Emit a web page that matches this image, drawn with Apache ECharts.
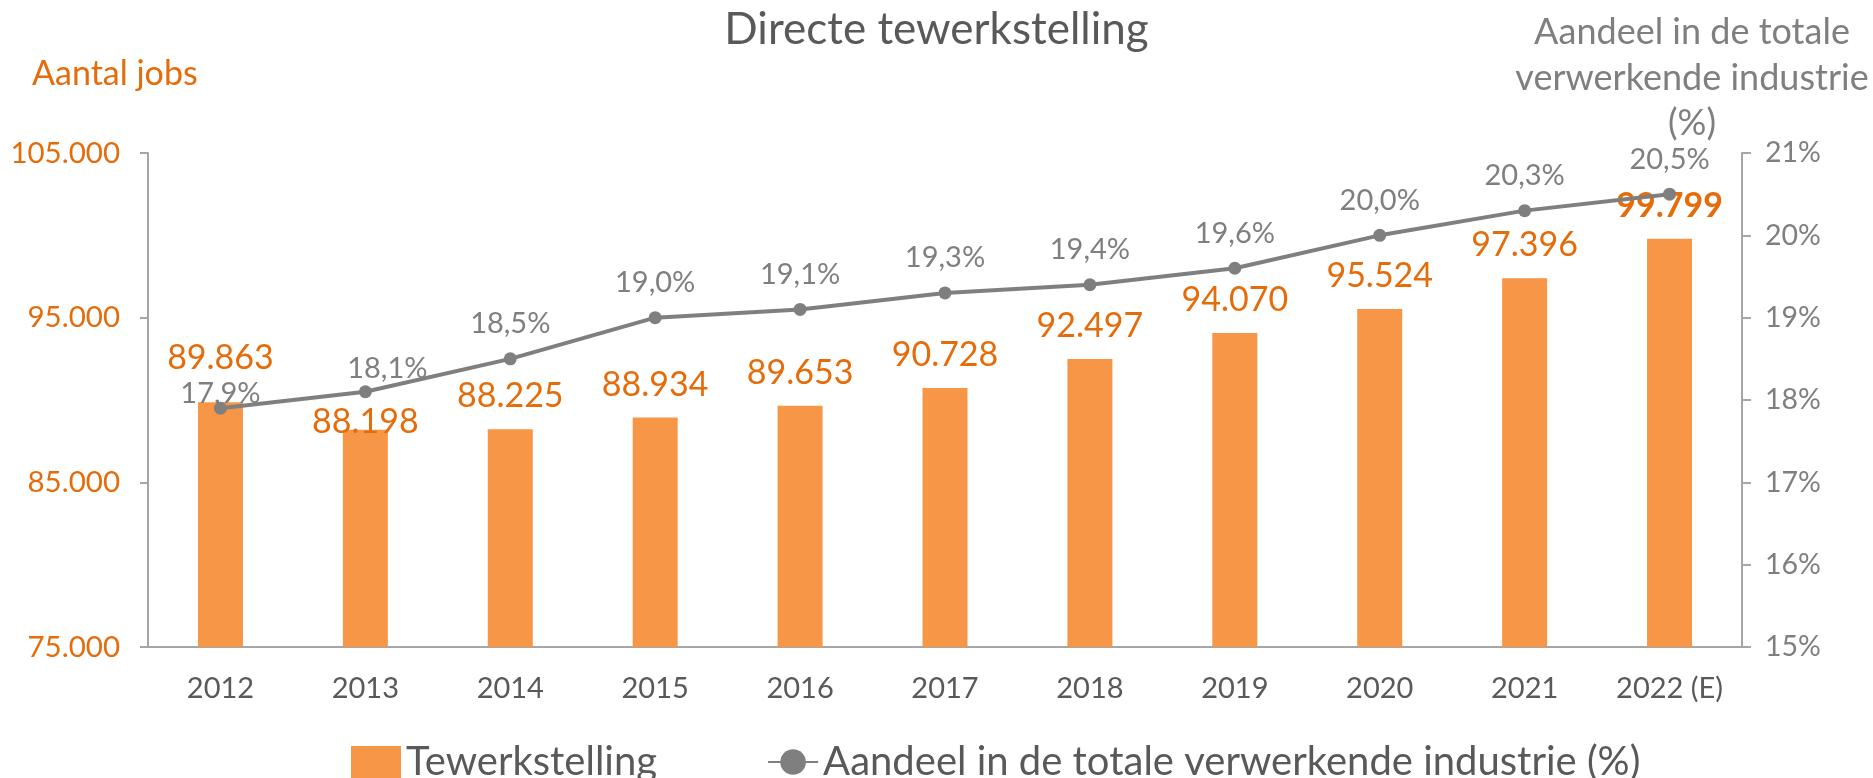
<!DOCTYPE html>
<html>
<head>
<meta charset="utf-8">
<script src="https://cdn.jsdelivr.net/npm/echarts@6/dist/echarts.min.js"></script>
<style>
html,body{margin:0;padding:0;background:#fff;}
#chart{width:1873px;height:778px;}
</style>
</head>
<body>
<div id="chart"></div>
<script>
const categories = ['2012','2013','2014','2015','2016','2017','2018','2019','2020','2021','2022 (E)'];
const jobs = [89863, 88198, 88225, 88934, 89653, 90728, 92497, 94070, 95524, 97396, 99799];
const share = [17.9, 18.1, 18.5, 19.0, 19.1, 19.3, 19.4, 19.6, 20.0, 20.3, 20.5];
const leftTicks = [75000, 105000, 10000];   // min, max, interval
const rightTicks = [15, 21, 1];             // min, max, interval

// label nudges (style only)
const jobsLabelNudge = [[0,-11],[0,25],[0,0],[0,0],[0,0],[0,0],[0,0],[0,0],[0,0],[0,0],[0,0]];
const shareLabelNudge = [[0,20],[22,12],[0,0],[0,0],[0,0],[0,0],[0,0],[0,0],[0,0],[0,0],[0,0]];

const ORANGE_BAR = '#F79646';
const ORANGE_TXT = '#E46C0A';
const GRAY_LINE = '#7F7F7F';
const GRAY_TXT = '#595959';
const FONT = 'Lato, "Open Sans", sans-serif';

function fmtThousands(v){
  return String(v).replace(/\B(?=(\d{3})+(?!\d))/g, '.');
}
function fmtPct(v){
  return v.toFixed(1).replace('.', ',') + '%';
}

const chart = echarts.init(document.getElementById('chart'));
const option = {
  animation: false,
  textStyle: { fontFamily: FONT },
  title: {
    text: 'Directe tewerkstelling',
    left: 'center',
    top: 3,
    textStyle: { fontFamily: FONT, fontSize: 44, fontWeight: 'normal', color: GRAY_TXT }
  },
  graphic: [
    {
      type: 'text', left: 32, top: 57,
      style: { text: 'Aantal jobs', font: '34px ' + FONT, fill: ORANGE_TXT }
    },
    {
      type: 'text', x: 1692, y: 10,
      style: {
        text: 'Aandeel in de totale\nverwerkende industrie\n(%)',
        font: '36px ' + FONT, fill: GRAY_LINE, align: 'center', lineHeight: 45.5
      }
    }
  ],
  legend: {
    left: 346,
    top: 737,
    itemGap: 110,
    itemWidth: 50,
    itemHeight: 32,
    textStyle: { fontFamily: FONT, fontSize: 40, color: GRAY_TXT },
    data: [
      { name: 'Tewerkstelling', icon: 'rect' },
      { name: 'Aandeel in de totale verwerkende industrie (%)' }
    ]
  },
  grid: { left: 148, right: 131, top: 153, bottom: 131, containLabel: false },
  xAxis: {
    type: 'category',
    data: categories,
    axisLine: { lineStyle: { color: '#A6A6A6', width: 2 } },
    axisTick: { show: false },
    axisLabel: { color: GRAY_TXT, fontSize: 29, margin: 27, fontFamily: FONT }
  },
  yAxis: [
    {
      type: 'value',
      min: leftTicks[0], max: leftTicks[1], interval: leftTicks[2],
      axisLine: { show: true, lineStyle: { color: '#A6A6A6', width: 2 } },
      axisTick: { show: true, length: 8, lineStyle: { color: '#A6A6A6', width: 2 } },
      splitLine: { show: false },
      axisLabel: { color: ORANGE_TXT, fontSize: 29.5, margin: 28, fontFamily: FONT, formatter: v => fmtThousands(v) }
    },
    {
      type: 'value',
      position: 'right',
      min: rightTicks[0], max: rightTicks[1], interval: rightTicks[2],
      axisLine: { show: true, lineStyle: { color: '#A6A6A6', width: 2 } },
      axisTick: { show: true, length: 9, lineStyle: { color: '#A6A6A6', width: 2 } },
      splitLine: { show: false },
      axisLabel: { color: GRAY_LINE, fontSize: 28.5, margin: 23, fontFamily: FONT, formatter: v => v + '%' }
    }
  ],
  series: [
    {
      name: 'Tewerkstelling',
      type: 'bar',
      yAxisIndex: 0,
      barWidth: 45,
      itemStyle: { color: ORANGE_BAR },
      label: {
        show: true, position: 'top', distance: 16,
        color: ORANGE_TXT, fontSize: 34, fontFamily: FONT,
        formatter: p => fmtThousands(p.value)
      },
      data: jobs.map((v, i) => ({
        value: v,
        label: Object.assign({ offset: jobsLabelNudge[i] }, i === jobs.length - 1 ? { fontWeight: 'bold' } : {})
      })),
      z: 2
    },
    {
      name: 'Aandeel in de totale verwerkende industrie (%)',
      type: 'line',
      yAxisIndex: 1,
      symbol: 'circle',
      symbolSize: 13,
      lineStyle: { color: GRAY_LINE, width: 4 },
      itemStyle: { color: GRAY_LINE },
      label: {
        show: true, position: 'top', distance: 14,
        color: GRAY_LINE, fontSize: 29, fontFamily: FONT,
        formatter: p => fmtPct(p.value)
      },
      data: share.map((v, i) => ({ value: v, label: { offset: shareLabelNudge[i] } })),
      z: 3
    }
  ]
};
chart.setOption(option);
</script>
</body>
</html>
